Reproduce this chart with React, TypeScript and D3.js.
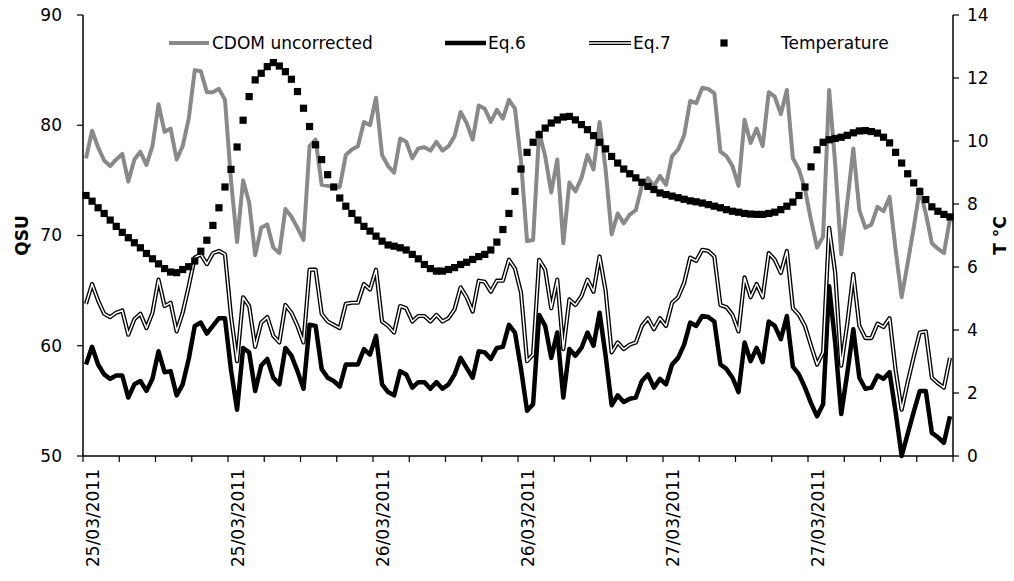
import React from "react";
import * as d3 from "d3";

const cdom: number[] = [
  77.0, 79.5, 78.0, 76.8, 76.3, 76.9, 77.4, 74.9, 76.9, 77.6, 76.4, 78.1, 81.9, 79.4, 79.7, 76.9, 78.1, 80.6, 85.0, 84.9,
  83.0, 83.0, 83.3, 82.3, 75.0, 69.4, 75.0, 73.0, 68.2, 70.7, 71.0, 68.9, 68.4, 72.4, 71.7, 70.7, 69.6, 78.1, 78.7, 74.6,
  74.5, 74.4, 74.4, 77.3, 77.8, 78.1, 80.3, 80.0, 82.5, 77.3, 76.3, 75.7, 78.8, 78.5, 77.0, 77.9, 78.0, 77.7, 78.5, 77.7,
  78.1, 79.0, 81.2, 80.2, 78.7, 81.8, 81.5, 80.3, 81.4, 80.6, 82.3, 81.5, 76.7, 69.5, 69.6, 79.4, 77.2, 73.9, 76.9, 69.3,
  74.8, 74.0, 75.2, 77.3, 76.0, 80.3, 76.0, 70.1, 72.0, 71.1, 71.9, 72.3, 74.5, 75.2, 74.5, 75.4, 74.6, 77.2, 77.8, 79.1,
  82.2, 82.0, 83.4, 83.3, 82.9, 77.6, 77.2, 76.3, 74.5, 80.5, 78.4, 79.7, 78.1, 83.0, 82.6, 81.0, 83.2, 77.0, 76.0, 74.2,
  71.4, 68.9, 69.9, 83.2, 76.5, 68.3, 73.0, 77.9, 72.3, 70.7, 71.0, 72.6, 72.2, 73.5, 68.7, 64.4, 67.5, 70.7, 74.2, 72.0,
  69.3, 68.8, 68.4, 71.5,
];

const eq6: number[] = [
  58.3, 59.9, 58.3, 57.4, 57.0, 57.3, 57.3, 55.3, 56.5, 56.8, 55.9, 57.0, 59.5, 57.6, 57.7, 55.5, 56.5, 58.8, 61.8, 62.1,
  61.1, 61.8, 62.5, 62.5, 57.8, 54.2, 59.8, 59.4, 55.9, 58.2, 58.8, 57.1, 56.5, 59.8, 59.1, 57.7, 56.1, 61.9, 61.8, 57.9,
  57.1, 56.8, 56.3, 58.3, 58.3, 58.3, 59.7, 59.2, 60.9, 56.5, 55.8, 55.5, 57.7, 57.4, 56.2, 56.7, 56.7, 56.1, 56.7, 56.1,
  56.5, 57.4, 58.9, 58.0, 57.1, 59.5, 59.4, 58.8, 59.8, 59.9, 61.9, 61.2, 57.9, 54.1, 54.7, 62.8, 61.8, 58.9, 61.2, 55.3,
  59.7, 59.1, 59.8, 61.2, 60.0, 63.0, 59.1, 54.6, 55.5, 54.9, 55.2, 55.3, 56.8, 57.4, 56.2, 57.0, 56.5, 58.3, 58.9, 60.1,
  62.1, 61.8, 62.7, 62.6, 62.2, 58.3, 57.9, 57.1, 55.8, 60.3, 58.6, 59.8, 58.5, 62.2, 61.8, 60.6, 62.7, 58.1, 57.4, 56.2,
  54.8, 53.6, 54.7, 65.4, 60.3, 53.8, 57.5, 61.5, 57.1, 56.1, 56.2, 57.3, 57.0, 57.6, 54.0, 50.0, 52.0, 54.0, 55.9, 55.9,
  52.1, 51.7, 51.2, 53.6,
];

const eq7: number[] = [
  63.8, 65.6, 64.1, 62.9, 62.6, 63.0, 63.2, 61.0, 62.4, 62.9, 61.6, 63.0, 66.0, 63.6, 63.9, 61.3, 63.0, 65.4, 68.0, 68.3,
  67.4, 68.4, 68.6, 68.3, 62.7, 58.6, 64.4, 63.6, 59.9, 62.1, 62.6, 60.9, 60.3, 63.7, 63.0, 61.8, 60.3, 66.9, 66.9, 62.9,
  62.2, 61.9, 61.6, 63.8, 63.9, 63.9, 65.6, 65.1, 66.9, 62.2, 61.8, 61.2, 63.6, 63.4, 62.2, 62.7, 62.7, 62.2, 62.8, 62.2,
  62.5, 63.3, 65.3, 64.4, 63.1, 65.9, 65.8, 64.9, 65.9, 65.9, 67.8, 67.0, 64.8, 58.6, 59.2, 67.8, 66.9, 63.4, 66.0, 59.7,
  64.2, 63.7, 64.5, 66.0, 64.9, 68.1, 65.0, 59.4, 60.3, 59.7, 60.1, 60.3, 61.8, 62.5, 61.5, 62.5, 61.8, 63.9, 64.4, 65.7,
  68.0, 67.7, 68.7, 68.6, 68.1, 63.7, 63.5, 62.8, 61.3, 66.2, 64.4, 65.6, 64.4, 68.4, 67.8, 66.6, 68.6, 63.4, 62.8, 61.8,
  60.0, 58.3, 59.4, 70.7, 66.6, 58.2, 62.0, 66.5, 61.8, 60.7, 60.7, 62.0, 61.7, 62.5, 57.8, 54.2, 56.7, 59.0, 61.2, 61.3,
  57.1, 56.6, 56.2, 58.9,
];

const temperature: number[] = [
  8.27, 8.09, 7.88, 7.70, 7.49, 7.29, 7.10, 6.93, 6.77, 6.61, 6.43, 6.26, 6.10, 5.95, 5.84, 5.82, 5.92, 6.01, 6.19, 6.50,
  6.85, 7.32, 7.88, 8.54, 9.10, 9.81, 10.66, 11.41, 11.94, 12.15, 12.36, 12.49, 12.38, 12.20, 11.96, 11.57, 11.04, 10.46, 9.88, 9.41,
  8.93, 8.54, 8.19, 7.93, 7.70, 7.49, 7.29, 7.14, 6.98, 6.82, 6.70, 6.66, 6.61, 6.54, 6.40, 6.26, 6.08, 5.95, 5.87, 5.87,
  5.92, 5.98, 6.08, 6.15, 6.24, 6.33, 6.40, 6.54, 6.79, 7.19, 7.70, 8.40, 9.11, 9.64, 9.96, 10.20, 10.41, 10.57, 10.67, 10.76,
  10.78, 10.67, 10.52, 10.36, 10.17, 9.96, 9.75, 9.51, 9.30, 9.11, 8.96, 8.83, 8.69, 8.56, 8.46, 8.35, 8.30, 8.25, 8.20, 8.15,
  8.10, 8.07, 8.03, 7.98, 7.93, 7.88, 7.82, 7.77, 7.74, 7.70, 7.68, 7.67, 7.67, 7.70, 7.74, 7.82, 7.93, 8.06, 8.27, 8.54,
  9.18, 9.72, 9.96, 10.04, 10.08, 10.12, 10.18, 10.26, 10.32, 10.33, 10.30, 10.25, 10.12, 9.94, 9.64, 9.30, 8.96, 8.67, 8.40, 8.14,
  7.91, 7.77, 7.67, 7.59,
];

const dateLabels: string[] = ["25/03/2011", "25/03/2011", "26/03/2011", "26/03/2011", "27/03/2011", "27/03/2011"];
const leftTicks: number[] = [50, 60, 70, 80, 90];
const rightTicks: number[] = [0, 2, 4, 6, 8, 10, 12, 14];

const W = 1014;
const H = 581;
const L = 83;
const R = 953;
const T = 15;
const B = 456;
const FONT = "'DejaVu Sans', sans-serif";
const GRAY = "#898989";

export default function App() {
  const n = cdom.length;
  const xs = d3.scaleLinear().domain([0, n]).range([L, R]);
  const x = (i: number) => xs(i + 0.5);
  const yL = d3.scaleLinear().domain([50, 90]).range([B, T]);
  const yR = d3.scaleLinear().domain([0, 14]).range([B, T]);
  const line = d3
    .line<number>()
    .x((_, i) => x(i))
    .y((d) => yL(d));
  const minorTicks = d3.range(0, n + 1, 6);
  const majorTicks = d3.range(0, n, 24);
  const ly = 43;

  return (
    <svg width={W} height={H} style={{ position: "absolute", left: 0, top: 0, background: "#fff" }} fontFamily={FONT}>
      {/* series */}
      <path d={line(cdom) || ""} fill="none" stroke={GRAY} strokeWidth={4} strokeLinejoin="round" />
      <path d={line(eq6) || ""} fill="none" stroke="#000" strokeWidth={4.5} strokeLinejoin="round" />
      <path d={line(eq7) || ""} fill="none" stroke="#000" strokeWidth={4.2} strokeLinejoin="round" />
      <path d={line(eq7) || ""} fill="none" stroke="#fff" strokeWidth={1.5} strokeLinejoin="round" />
      {temperature.map((t, i) => (
        <rect key={i} x={x(i) - 3.6} y={yR(t) - 3.6} width={7.2} height={7.2} fill="#000" />
      ))}

      {/* axes */}
      <line x1={L} x2={L} y1={T} y2={B} stroke="#000" strokeWidth={1.5} />
      <line x1={R} x2={R} y1={T} y2={B} stroke="#000" strokeWidth={1.5} />
      <line x1={L} x2={R} y1={B} y2={B} stroke="#000" strokeWidth={1.5} />
      {leftTicks.map((v) => (
        <g key={"l" + v}>
          <line x1={L - 6} x2={L} y1={yL(v)} y2={yL(v)} stroke="#000" strokeWidth={1.2} />
          <text x={62} y={yL(v)} dy="0.35em" textAnchor="end" fontSize={17} fill="#000">
            {v}
          </text>
        </g>
      ))}
      {rightTicks.map((v) => (
        <g key={"r" + v}>
          <line x1={R} x2={R + 6} y1={yR(v)} y2={yR(v)} stroke="#000" strokeWidth={1.2} />
          <text x={967} y={yR(v)} dy="0.35em" textAnchor="start" fontSize={17} fill="#000">
            {v}
          </text>
        </g>
      ))}
      {minorTicks.map((i) => (
        <line key={"t" + i} x1={xs(i)} x2={xs(i)} y1={B} y2={B + 6} stroke="#000" strokeWidth={1.2} />
      ))}
      {majorTicks.map((i, k) => (
        <text
          key={"d" + i}
          transform={`translate(${xs(i) + 16},${B + 13}) rotate(-90)`}
          textAnchor="end"
          fontSize={17}
          fill="#000"
        >
          {dateLabels[k]}
        </text>
      ))}
      <text transform={`translate(28,${(T + B) / 2}) rotate(-90)`} textAnchor="middle" fontSize={17} fontWeight="bold">
        QSU
      </text>
      <text transform={`translate(1006,${(T + B) / 2}) rotate(-90)`} textAnchor="middle" fontSize={17} fontWeight="bold">
        T °C
      </text>

      {/* legend */}
      <line x1={169} x2={209} y1={ly} y2={ly} stroke={GRAY} strokeWidth={4} />
      <text x={212} y={ly} dy="0.35em" fontSize={17}>CDOM uncorrected</text>
      <line x1={445} x2={486} y1={ly} y2={ly} stroke="#000" strokeWidth={4.5} />
      <text x={488} y={ly} dy="0.35em" fontSize={17}>Eq.6</text>
      <line x1={589} x2={631} y1={ly} y2={ly} stroke="#000" strokeWidth={4.2} />
      <line x1={589} x2={631} y1={ly} y2={ly} stroke="#fff" strokeWidth={1.5} />
      <text x={633} y={ly} dy="0.35em" fontSize={17}>Eq.7</text>
      <rect x={724 - 3.6} y={ly - 3.6} width={7.2} height={7.2} fill="#000" />
      <text x={781} y={ly} dy="0.35em" fontSize={17}>Temperature</text>
    </svg>
  );
}
